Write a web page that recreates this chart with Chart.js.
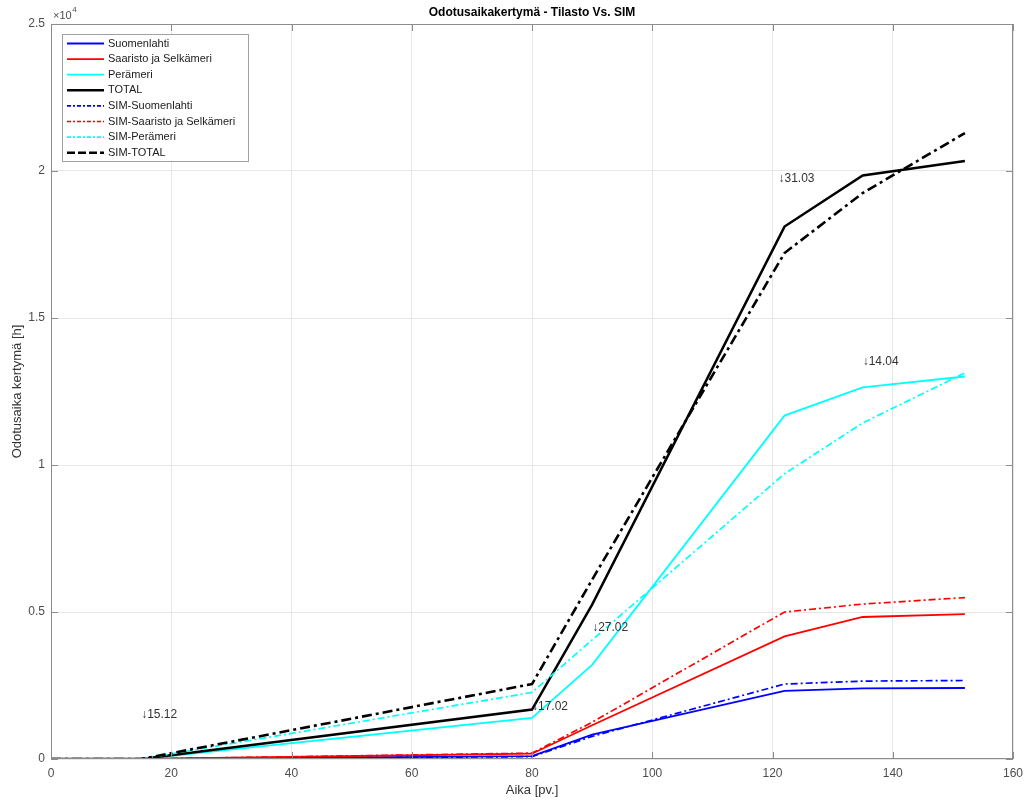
<!DOCTYPE html>
<html>
<head>
<meta charset="utf-8">
<title>Odotusaikakertymä - Tilasto Vs. SIM</title>
<script src="https://cdn.jsdelivr.net/npm/chart.js@4.4.1/dist/chart.umd.min.js"></script>
<style>
    body { margin: 0; background: #ffffff; }
    #wrap { width: 1025px; height: 802px; position: relative; }
</style>
</head>
<body>
<div id="wrap"><canvas id="waitChart"></canvas></div>
<script>
// Time axis (days) shared by all series
const days = [0, 15, 80, 90, 122, 135, 152];

// Observed (Tilasto) cumulative waiting time [h]
const suomenlahti = [0, 0, 100, 830, 2320, 2400, 2415];
const saaristo = [0, 0, 180, 1150, 4170, 4830, 4930];
const perameri = [0, 0, 1395, 3200, 11680, 12640, 13010];
const total = [0, 0, 1680, 5250, 18110, 19850, 20340];

// Simulated cumulative waiting time [h]
const simSuomenlahti = [0, 0, 80, 770, 2550, 2650, 2670];
const simSaaristo = [0, 0, 200, 1250, 5000, 5270, 5490];
const simPerameri = [0, 0, 2265, 4050, 9700, 11430, 13130];
const simTotal = [0, 0, 2550, 6100, 17210, 19250, 21290];

// Date markers written into the plot
const markText = ['\u219315.12', '\u219317.02', '\u219327.02', '\u219331.03', '\u219314.04'];
const markX = [15, 80, 90, 121, 135];
const markY = [1500, 1770, 4480, 19730, 13520];

const xTicks = [0, 20, 40, 60, 80, 100, 120, 140, 160];
const yTicks = [0, 5000, 10000, 15000, 20000, 25000];

const FONT = '"Liberation Sans", Arial, Helvetica, sans-serif';

function pts(ys) {
    return days.map((d, i) => ({ x: d, y: ys[i] }));
}

function series(label, ys, color, width, dash) {
    return {
        label: label,
        data: pts(ys),
        borderColor: color,
        backgroundColor: color,
        borderWidth: width,
        borderDash: dash,
        pointRadius: 0,
        tension: 0,
        fill: false
    };
}

const dashDot = [7, 3, 2, 3];
const datasets = [
    series('Suomenlahti', suomenlahti, '#0000ff', 1.8, []),
    series('Saaristo ja Selkämeri', saaristo, '#ff0000', 1.8, []),
    series('Perämeri', perameri, '#00ffff', 1.8, []),
    series('TOTAL', total, '#000000', 2.5, []),
    series('SIM-Suomenlahti', simSuomenlahti, '#0000ff', 1.7, dashDot),
    series('SIM-Saaristo ja Selkämeri', simSaaristo, '#ff0000', 1.7, dashDot),
    series('SIM-Perämeri', simPerameri, '#00ffff', 1.7, dashDot),
    series('SIM-TOTAL', simTotal, '#000000', 2.6, [10, 4, 3, 4])
];
// MATLAB draws later lines on top
datasets.forEach((d, i) => { d.order = datasets.length - i; });

// Frame, inside tick marks, title, exponent, markers and legend
const matlabDecor = {
    id: 'matlabDecor',
    afterDatasetsDraw(chart) {
        const ctx = chart.ctx;
        const a = chart.chartArea;
        const xs = chart.scales.x;
        const ys = chart.scales.y;
        ctx.save();

        // date markers
        ctx.font = '12px ' + FONT;
        ctx.fillStyle = '#333333';
        ctx.textAlign = 'left';
        ctx.textBaseline = 'middle';
        markText.forEach((t, i) => {
            ctx.fillText(t, xs.getPixelForValue(markX[i]), ys.getPixelForValue(markY[i]));
        });

        // box
        ctx.strokeStyle = '#8c8c8c';
        ctx.lineWidth = 1;
        ctx.strokeRect(a.left + 0.5, a.top + 0.5, a.right - a.left - 1, a.bottom - a.top - 1);

        // tick marks pointing inwards
        ctx.beginPath();
        xTicks.forEach(v => {
            const px = Math.round(xs.getPixelForValue(v)) + 0.5;
            ctx.moveTo(px, a.bottom); ctx.lineTo(px, a.bottom - 7);
            ctx.moveTo(px, a.top); ctx.lineTo(px, a.top + 7);
        });
        yTicks.forEach(v => {
            const py = Math.round(ys.getPixelForValue(v)) + 0.5;
            ctx.moveTo(a.left, py); ctx.lineTo(a.left + 7, py);
            ctx.moveTo(a.right, py); ctx.lineTo(a.right - 7, py);
        });
        ctx.stroke();

        // title
        ctx.fillStyle = '#000000';
        ctx.font = 'bold 12px ' + FONT;
        ctx.textAlign = 'center';
        ctx.textBaseline = 'middle';
        ctx.fillText('Odotusaikakertymä - Tilasto Vs. SIM', (a.left + a.right) / 2, 13);

        // exponent
        ctx.fillStyle = '#4d4d4d';
        ctx.textAlign = 'left';
        ctx.font = '11px ' + FONT;
        const baseW = ctx.measureText('\u00d710').width;
        ctx.fillText('\u00d710', a.left + 2, 16);
        ctx.font = '8px ' + FONT;
        ctx.fillText('4', a.left + 2 + baseW + 0.5, 10);

        // legend
        const lx = a.left + 11, ly = a.top + 10, lw = 186, lh = 127;
        ctx.fillStyle = '#ffffff';
        ctx.fillRect(lx, ly, lw, lh);
        ctx.strokeStyle = '#a0a0a0';
        ctx.lineWidth = 1;
        ctx.strokeRect(lx + 0.5, ly + 0.5, lw, lh);
        ctx.font = '11px ' + FONT;
        ctx.textBaseline = 'middle';
        chart.data.datasets.forEach((d, i) => {
            const yy = ly + 9.5 + i * 15.6;
            ctx.strokeStyle = d.borderColor;
            ctx.lineWidth = d.borderWidth;
            ctx.setLineDash(d.borderDash.length ? (i === 7 ? [8, 3] : [4, 2, 2, 2]) : []);
            ctx.beginPath();
            ctx.moveTo(lx + 5, yy);
            ctx.lineTo(lx + 42, yy);
            ctx.stroke();
            ctx.setLineDash([]);
            ctx.fillStyle = '#1a1a1a';
            ctx.fillText(d.label, lx + 46, yy);
        });
        ctx.restore();
    }
};

const ctx = document.getElementById('waitChart').getContext('2d');
const waitChart = new Chart(ctx, {
    type: 'line',
    data: { datasets: datasets },
    plugins: [matlabDecor],
    options: {
        responsive: true,
        maintainAspectRatio: false,
        animation: false,
        layout: { padding: { top: 24, right: 12, left: 0, bottom: 0 } },
        plugins: {
            legend: { display: false },
            title: { display: false },
            tooltip: { enabled: false }
        },
        scales: {
            x: {
                type: 'linear',
                min: 0,
                max: 160,
                afterBuildTicks: s => { s.ticks = xTicks.map(v => ({ value: v })); },
                afterFit: s => { s.height = 43; s.paddingLeft = 0; s.paddingRight = 0; },
                grid: { color: '#e6e6e6', drawTicks: false },
                border: { display: false },
                ticks: { padding: 7, color: '#4d4d4d', font: { family: FONT, size: 12 }, maxRotation: 0 },
                title: {
                    display: true,
                    text: 'Aika [pv.]',
                    color: '#333333',
                    font: { family: FONT, size: 13 },
                    padding: { top: 0, bottom: 4 }
                }
            },
            y: {
                type: 'linear',
                min: 0,
                max: 25000,
                afterBuildTicks: s => { s.ticks = yTicks.map(v => ({ value: v })); },
                afterFit: s => { s.width = 51; s.paddingTop = 0; s.paddingBottom = 0; },
                grid: { color: '#e6e6e6', drawTicks: false },
                border: { display: false },
                ticks: {
                    padding: 6,
                    color: '#4d4d4d',
                    font: { family: FONT, size: 12 },
                    callback: v => String(v / 10000)
                },
                title: {
                    display: true,
                    text: 'Odotusaika kertymä [h]',
                    color: '#333333',
                    font: { family: FONT, size: 13 },
                    padding: { top: 10, bottom: 0 }
                }
            }
        }
    }
});
</script>
</body>
</html>
